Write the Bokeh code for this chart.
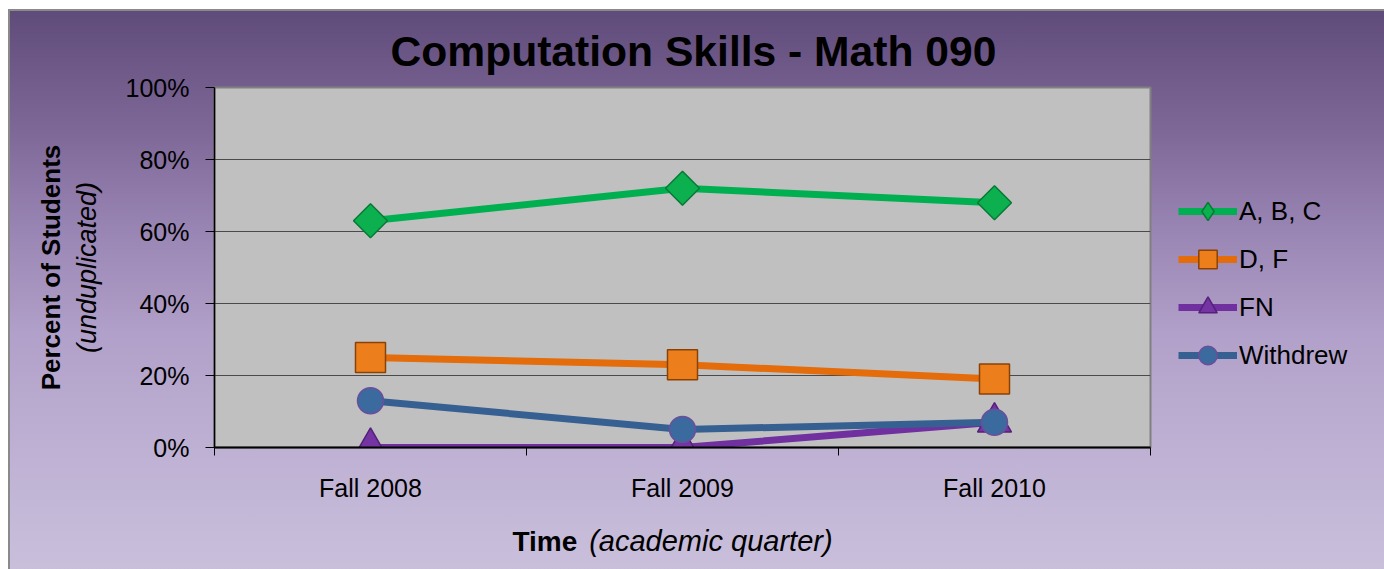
import math
from bokeh.plotting import figure
from bokeh.models import (Range1d, FixedTicker, PrintfTickFormatter, Legend, LegendItem,
                          LinearAxis, Title)
from bokeh.embed import file_html
from bokeh.resources import INLINE

# ---- data ----
categories = ["Fall 2008", "Fall 2009", "Fall 2010"]
abc = [63, 72, 68]
df_vals = [25, 23, 19]
fn = [0, 0, 7]
withdrew = [13, 5, 7]
y_ticks = [0, 20, 40, 60, 80, 100]

series_names = ["A, B, C", "D, F", "FN", "Withdrew"]

FONT = "Liberation Sans"

xs = [i + 0.5 for i in range(len(categories))]

p = figure(frame_width=936, frame_height=360, output_backend="svg", toolbar_location=None,
           x_range=Range1d(0, len(categories)), y_range=Range1d(0, 100),
           min_border_left=206, min_border_right=234, min_border_top=78, min_border_bottom=122)

p.styles = {
    "margin-left": "8px",
    "margin-top": "9px",
    "background": "linear-gradient(to bottom, #5f4b7a 0%, #7e6898 22%, #9a86b4 40%, #b1a0c9 58%, #bcaed2 75%, #c9bfdb 100%)",
    "box-shadow": "inset 2px 2px 0 0 #8a8a8a, inset -2px 0 0 0 #8a8a8a",
}
p.border_fill_alpha = 0
p.background_fill_color = "#C0C0C0"
p.outline_line_color = "#808080"
p.outline_line_width = 2

# title
p.title.text = "Computation Skills - Math 090"
p.title.align = "left"
p.title.offset = 176
p.title.standoff = 26
p.title.text_font = FONT
p.title.text_font_size = "42.6px"
p.title.text_font_style = "bold"
p.title.text_color = "black"

# grid
p.xgrid.grid_line_color = None
p.ygrid.grid_line_color = "#4a4a4a"
p.ygrid.grid_line_width = 1
p.ygrid.ticker = FixedTicker(ticks=y_ticks)

# y axis
p.yaxis.ticker = FixedTicker(ticks=y_ticks)
p.yaxis.formatter = PrintfTickFormatter(format="%d%%")
p.yaxis.axis_line_color = "black"
p.yaxis.axis_line_width = 1.5
p.yaxis.major_tick_line_color = "black"
p.yaxis.major_tick_out = 9
p.yaxis.major_tick_in = 0
p.yaxis.minor_tick_line_color = None
p.yaxis.major_label_text_font = FONT
p.yaxis.major_label_text_font_size = "25px"
p.yaxis.major_label_text_color = "black"
p.yaxis.major_label_standoff = 16
p.yaxis.axis_label = "(unduplicated)"
p.yaxis.axis_label_text_font = FONT
p.yaxis.axis_label_text_font_size = "27px"
p.yaxis.axis_label_text_font_style = "italic"
p.yaxis.axis_label_text_color = "black"
p.yaxis.axis_label_standoff = 21

p.add_layout(Title(text="Percent of Students", align="center", standoff=5,
                   text_font=FONT, text_font_size="26px", text_font_style="bold",
                   text_color="black"), "left")

# x axis
p.xaxis.ticker = FixedTicker(ticks=xs, minor_ticks=list(range(len(categories) + 1)))
p.xaxis.major_label_overrides = {x: c for x, c in zip(xs, categories)}
p.xaxis.axis_line_color = "black"
p.xaxis.axis_line_width = 2
p.xaxis.major_tick_line_color = None
p.xaxis.minor_tick_line_color = "black"
p.xaxis.minor_tick_out = 8
p.xaxis.minor_tick_in = 0
p.xaxis.major_label_text_font = FONT
p.xaxis.major_label_text_font_size = "25px"
p.xaxis.major_label_text_color = "black"
p.xaxis.major_label_standoff = 18

# x axis title: "Time" (bold) + "(academic quarter)" (italic) on one row
x_title_parts = [("Time", "bold", "28px", 1.059, 21), ("(academic quarter)", "italic", "29px", 1.591, -35)]
for txt, style, fsize, pos, standoff in x_title_parts:
    ax = LinearAxis(ticker=FixedTicker(ticks=[pos], minor_ticks=[]),
                    major_label_overrides={pos: txt},
                    axis_line_color=None, major_tick_line_color=None, minor_tick_line_color=None,
                    major_tick_out=0, major_tick_in=0,
                    major_label_standoff=standoff, major_label_text_font=FONT,
                    major_label_text_font_size=fsize, major_label_text_font_style=style,
                    major_label_text_color="black")
    p.add_layout(ax, "below")

# series
styles = [
    dict(color="#00B050", marker="square", size=24, angle=math.pi / 4, fill="#0DB04F", line="#067A36"),
    dict(color="#E46C0A", marker="square", size=30, angle=0, fill="#EC7F1C", line="#8A4106"),
    dict(color="#7030A0", marker="triangle", size=34, angle=0, fill="#7434A2", line="#53217A"),
    dict(color="#376092", marker="circle", size=26, angle=0, fill="#3A6A9E", line="#6B4E9C"),
]
data = [abc, df_vals, fn, withdrew]

items = []
for name, vals, st in zip(series_names, data, styles):
    lr = p.line(xs, vals, line_color=st["color"], line_width=7)
    mr = p.scatter(xs, vals, marker=st["marker"], size=st["size"], angle=st["angle"],
                   fill_color=st["fill"], line_color=st["line"], line_width=1.5)
    key = mr
    if st["angle"] != 0:
        # legend key: un-rotated diamond (hidden in the plot itself)
        key = p.scatter(xs, vals, marker="diamond", size=st["size"],
                        fill_color=st["fill"], line_color=st["line"], line_width=1.5,
                        visible=False)
    items.append(LegendItem(label=name, renderers=[lr, key]))

legend = Legend(items=items, location="top_left", orientation="vertical",
                title=" ", title_text_font_size="10px", title_standoff=62,
                background_fill_alpha=0, border_line_color=None, inactive_fill_alpha=0,
                padding=0, margin=28, spacing=2, glyph_width=59, glyph_height=46,
                label_height=46, label_standoff=2,
                label_text_font=FONT, label_text_font_size="26px", label_text_color="black")
p.add_layout(legend, "right")

open("out.html", "w").write(file_html(p, INLINE))
